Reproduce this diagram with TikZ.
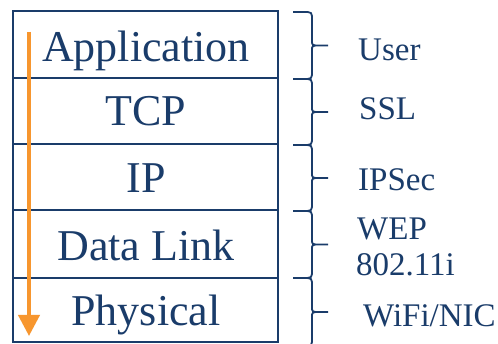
\documentclass[tikz,border=0pt]{standalone}
\usepackage{fontspec}
\newfontfamily\stackfont{Liberation Serif}
\usetikzlibrary{arrows.meta}
\definecolor{navy}{HTML}{1A3C6A}
\definecolor{flow}{HTML}{F7962E}
\tikzset{
  x=1pt, y=-1pt,
  layer/.style={anchor=base, text=navy, font=\stackfont\fontsize{44}{44}\selectfont, inner sep=0pt},
  sec/.style={anchor=base west, text=navy, font=\stackfont\fontsize{33}{33}\selectfont, inner sep=0pt},
  frame/.style={draw=navy, line width=1.4pt},
  curly/.style={draw=navy, line width=1.8pt, line join=round},
}
% curly brace from y=#1 to y=#2 on the right of the stack
\newcommand\stackbrace[2]{%
  \pgfmathsetmacro\bmid{(#1+#2)/2}%
  \draw[curly] (293,#1) -- (303,#1) .. controls (312,#1) .. (312,#1+8)
    -- (312,\bmid-5) .. controls (312,\bmid) .. (320,\bmid) -- (328,\bmid)
    (320,\bmid) .. controls (312,\bmid) .. (312,\bmid+5)
    -- (312,#2-8) .. controls (312,#2) .. (303,#2) -- (293,#2);}
\begin{document}
\begin{tikzpicture}
\useasboundingbox (0,0) rectangle (498,344);
\fill[white] (0,0) rectangle (498,344);
% protocol stack
\draw[frame] (13,11) rectangle (278,342);
\foreach \y in {78,144,210,278} \draw[frame] (13,\y) -- (278,\y);
\node[layer] (app) at (146,62) {Application};
\node[layer] (tcp) at (146,126) {TCP};
\node[layer] (ip)  at (146,193) {IP};
\node[layer] (dl)  at (146,261) {Data Link};
\node[layer] (phy) at (146,326) {Physical};
% downward flow arrow
\coordinate (flowtop) at (29,32);
\coordinate (flowend) at (29,336);
\draw[flow, line width=4pt, -{Triangle[width=21pt,length=21pt]}] (flowtop) -- (flowend);
% security mechanisms per layer
\stackbrace{12}{79}
\stackbrace{79}{145}
\stackbrace{145}{211}
\stackbrace{211}{278}
\stackbrace{278}{346}
\node[sec] (user)  at (358,61)  {User};
\node[sec] (ssl)   at (359,120) {SSL};
\node[sec] (ipsec) at (358,191) {IPSec};
\node[sec] (wep)   at (357,240) {WEP};
\node[sec] (wpa)   at (356,276) {802.11i};
\node[sec] (wifi)  at (363,327) {WiFi/NIC};
\end{tikzpicture}
\end{document}
